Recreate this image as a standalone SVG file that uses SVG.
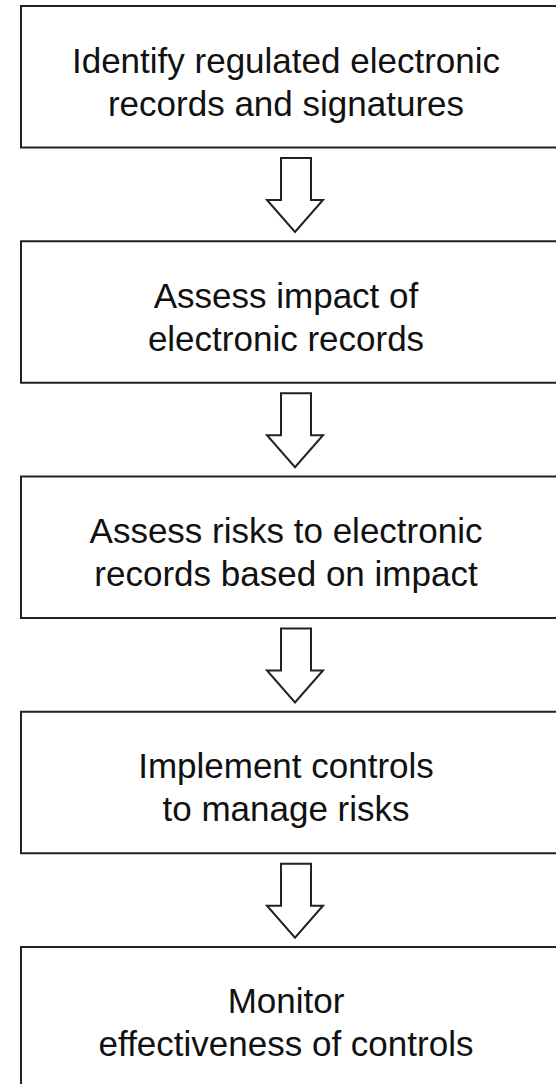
<svg xmlns="http://www.w3.org/2000/svg" width="556" height="1084" viewBox="0 0 556 1084">
<style>
.box{fill:#fff;stroke:#222;stroke-width:2}
.arrow{fill:#fff;stroke:#222;stroke-width:2;stroke-linejoin:miter}
text{font-family:"Liberation Sans",Arial,sans-serif;font-size:35px;fill:#111;text-anchor:middle}
</style>
<rect width="556" height="1084" fill="#fff"/>
<g id="node1"><rect class="box" x="21" y="6" width="560" height="141.5"/>
<text x="286" y="73">Identify regulated electronic</text><text x="286" y="116">records and signatures</text></g>
<g id="node2"><rect class="box" x="21" y="241.25" width="560" height="141.5"/>
<text x="286" y="308">Assess impact of</text><text x="286" y="351">electronic records</text></g>
<g id="node3"><rect class="box" x="21" y="476.5" width="560" height="141.5"/>
<text x="286" y="543">Assess risks to electronic</text><text x="286" y="586">records based on impact</text></g>
<g id="node4"><rect class="box" x="21" y="711.75" width="560" height="141.5"/>
<text x="286" y="778">Implement controls</text><text x="286" y="821">to manage risks</text></g>
<g id="node5"><rect class="box" x="21" y="947" width="560" height="160"/>
<text x="286" y="1013">Monitor</text><text x="286" y="1056">effectiveness of controls</text></g>
<g id="connectors">
<path class="arrow" d="M281,158 H311 V200 H323 L295,232 L267,200 H281 Z"/>
<path class="arrow" d="M281,393.25 H311 V435.25 H323 L295,467.25 L267,435.25 H281 Z"/>
<path class="arrow" d="M281,628.5 H311 V670.5 H323 L295,702.5 L267,670.5 H281 Z"/>
<path class="arrow" d="M281,863.75 H311 V905.75 H323 L295,937.75 L267,905.75 H281 Z"/>
</g>
</svg>
